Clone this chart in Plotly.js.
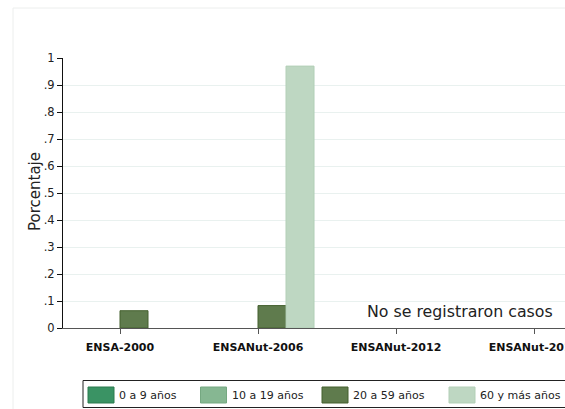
<!DOCTYPE html>
<html>
<head>
<meta charset="utf-8">
<script src="https://cdn.plot.ly/plotly-3.0.1.min.js"></script>
<style>
html,body{margin:0;padding:0;overflow:hidden;background:#fff;width:565px;height:409px;}
#chart{width:640px;height:430px;}
</style>
</head>
<body>
<div id="chart"></div>
<script>
// ---- data ----
var categories = ["ENSA-2000", "ENSANut-2006", "ENSANut-2012", "ENSANut-2018"];
var seriesNames = ["0 a 9 años", "10 a 19 años", "20 a 59 años", "60 y más años"];
var values_0_9   = [null, null, null, null];
var values_10_19 = [null, null, null, null];
var values_20_59 = [0.064, 0.083, null, null];
var values_60    = [null, 0.970, null, null];
var yTickVals  = [0, 0.1, 0.2, 0.3, 0.4, 0.5, 0.6, 0.7, 0.8, 0.9, 1];
var yTickText  = ["0", ".1", ".2", ".3", ".4", ".5", ".6", ".7", ".8", ".9", "1"];
var noteText = "No se registraron casos";

// ---- styles ----
var fills   = ["#3a9364", "#86b792", "#5f7b4d", "#bed7c2"];
var borders = ["#2a7a4e", "#75a881", "#44602f", "#b3cfb7"];
var FONT = "DejaVu Sans, Verdana, sans-serif";

var allValues = [values_0_9, values_10_19, values_20_59, values_60];
var traces = allValues.map(function (vals, i) {
  return {
    type: "bar",
    name: seriesNames[i],
    x: categories,
    y: vals,
    marker: {color: fills[i], line: {color: borders[i], width: 1}},
    showlegend: false,
    hoverinfo: "x+y+name"
  };
});

// pixel -> paper helpers (plot area: x 63..591, y 58..328)
var L = 63, R = 591, T = 58, B = 328;
function px(x) { return (x - L) / (R - L); }
function py(y) { return (B - y) / (B - T); }

var shapes = [
  // outer frame
  {type: "rect", xref: "paper", yref: "paper", x0: px(13), x1: px(700), y0: py(8), y1: py(600),
   line: {color: "#eceeed", width: 1}, fillcolor: "rgba(0,0,0,0)", layer: "below"},
  // legend box
  {type: "rect", xref: "paper", yref: "paper", x0: px(83), x1: px(700), y0: py(380.5), y1: py(407.5),
   line: {color: "#222", width: 1}, fillcolor: "#fff"}
];
var annotations = [
  {xref: "x", yref: "y", x: 2.464, y: 0.06, text: noteText, showarrow: false,
   font: {family: FONT, size: 15.8, color: "#222"}, xanchor: "center", yanchor: "middle"},
  {xref: "paper", yref: "paper", x: px(35), y: py(192), text: "Porcentaje", showarrow: false,
   textangle: -90, xanchor: "center", yanchor: "middle",
   font: {family: FONT, size: 15, color: "#222"}}
];
var swatchX = [88, 200.5, 322, 449];
seriesNames.forEach(function (name, i) {
  shapes.push({type: "rect", xref: "paper", yref: "paper",
    x0: px(swatchX[i]), x1: px(swatchX[i] + 26), y0: py(387), y1: py(403),
    fillcolor: fills[i], line: {color: borders[i], width: 1}});
  annotations.push({xref: "paper", yref: "paper", x: px(swatchX[i] + 29), y: py(395.5),
    text: name, showarrow: false, xanchor: "left", yanchor: "middle",
    font: {family: FONT, size: 11, color: "#222"}});
});

var layout = {
  width: 640, height: 430,
  margin: {l: L, r: 640 - R, t: T, b: 430 - B, pad: 0},
  paper_bgcolor: "#fff", plot_bgcolor: "#fff",
  barmode: "group", bargap: 0.188, bargroupgap: 0,
  font: {family: FONT, color: "#222"},
  xaxis: {
    type: "category", range: [-0.413, 3.413],
    showline: true, linecolor: "#555", linewidth: 1,
    ticks: "outside", ticklen: 5, tickcolor: "#555",
    tickfont: {family: FONT, size: 11, color: "#111", weight: "bold"},
    ticklabelstandoff: 4,
    showgrid: false, zeroline: false, fixedrange: true
  },
  yaxis: {
    range: [0, 1.0], tickvals: yTickVals, ticktext: yTickText,
    showline: true, linecolor: "#111", linewidth: 1,
    ticks: "outside", ticklen: 5, tickcolor: "#111",
    tickfont: {family: FONT, size: 11.5, color: "#222"},
    showgrid: true, gridcolor: "#e9f1ef", gridwidth: 1,
    zeroline: false,
    fixedrange: true
  },
  shapes: shapes,
  annotations: annotations,
  showlegend: false
};

Plotly.newPlot("chart", traces, layout, {displayModeBar: false, staticPlot: true});
</script>
</body>
</html>
